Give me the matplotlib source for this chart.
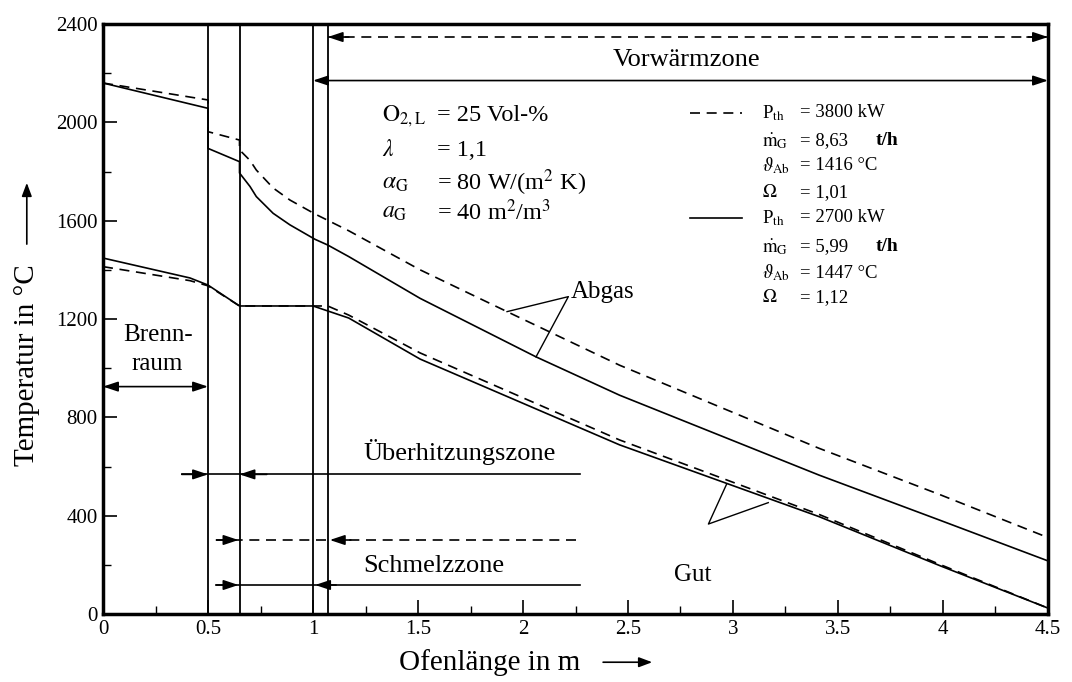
import numpy as np
import matplotlib
matplotlib.use("Agg")
import matplotlib.pyplot as plt
from matplotlib.patches import FancyArrowPatch
from matplotlib.ticker import MultipleLocator

plt.rcParams['font.family'] = ['Liberation Serif', 'DejaVu Serif']
plt.rcParams['mathtext.fontset'] = 'stix'

# Abgas (flue gas) curves
abgas_3800_x = [0, 0.5, 0.5, 0.65, 0.65, 0.70, 0.73, 0.81, 0.89, 1.01, 1.17, 1.51, 1.924, 2.46, 3.41, 3.99, 4.5]
abgas_3800_y = [2160, 2091, 1962, 1928, 1888, 1845, 1806, 1733, 1684, 1627, 1559, 1400, 1230, 1012, 674, 484, 311]
abgas_2700_x = [0, 0.5, 0.5, 0.65, 0.65, 0.70, 0.73, 0.81, 0.89, 1.01, 1.07, 1.17, 1.51, 2.062, 2.46, 3.41, 3.99, 4.5]
abgas_2700_y = [2160, 2057, 1894, 1840, 1794, 1739, 1698, 1630, 1583, 1524, 1501, 1454, 1284, 1046, 890, 565, 380, 216]

# Gut (material) curves
gut_3800_x = [0, 0.414, 0.5, 0.65, 1.07, 1.17, 1.51, 2.46, 3.41, 3.99, 4.5]
gut_3800_y = [1413, 1356, 1335, 1253, 1253, 1216, 1062, 708, 405, 200, 24]
gut_2700_x = [0, 0.414, 0.5, 0.65, 1.0, 1.17, 1.51, 2.46, 3.41, 3.99, 4.5]
gut_2700_y = [1448, 1367, 1338, 1253, 1253, 1204, 1037, 688, 396, 195, 24]

zone_bounds = [0.5, 0.65, 1.0, 1.07]

params_left = [r"$\mathrm{O}_{2,\mathrm{L}}$", r"$\lambda$", r"$\alpha_\mathrm{G}$", r"$a_\mathrm{G}$"]
params_left_val = ["= 25 Vol-%", "= 1,1", r"= 80 W/(m$^2$ K)", r"= 40 m$^2$/m$^3$"]
params_left_y = [2026, 1884, 1753, 1635]
legend_sym = [r"P$_\mathrm{th}$", r"$\dot{\mathrm{m}}_\mathrm{G}$", r"$\vartheta_\mathrm{Ab}$", r"$\Omega$"]
legend_3800 = ["= 3800 kW", "= 8,63", "= 1416 °C", "= 1,01"]
legend_2700 = ["= 2700 kW", "= 5,99", "= 1447 °C", "= 1,12"]
legend_rows_y = [2038, 1925, 1823, 1714, 1611, 1493, 1387, 1286]

fig = plt.figure(figsize=(10.72, 6.82), dpi=100)
ax = fig.add_axes([0.0961, 0.0997, 0.8815, 0.8651])

lw = 1.2
dash = (6, 4)
ax.plot(abgas_3800_x, abgas_3800_y, 'k', lw=lw, dashes=dash)
ax.plot(abgas_2700_x, abgas_2700_y, 'k', lw=lw)
ax.plot(gut_3800_x, gut_3800_y, 'k', lw=lw, dashes=dash)
ax.plot(gut_2700_x, gut_2700_y, 'k', lw=lw)

for xb in zone_bounds:
    ax.axvline(xb, color='k', lw=1.3)

ax.set_xlim(0, 4.5)
ax.set_ylim(0, 2400)
ax.set_xticks(np.arange(0, 4.51, 0.5))
ax.set_xticklabels(["0", "0.5", "1", "1.5", "2", "2.5", "3", "3.5", "4", "4.5"], fontsize=15)
ax.set_yticks(np.arange(0, 2401, 400))
ax.set_yticklabels([str(v) for v in range(0, 2401, 400)], fontsize=15)
ax.xaxis.set_minor_locator(MultipleLocator(0.25))
ax.yaxis.set_minor_locator(MultipleLocator(200))
ax.tick_params(which='major', direction='in', length=10, width=1.2, top=False, right=False, pad=4)
ax.tick_params(which='minor', direction='in', length=6, width=1.0, top=False, right=False)
for s in ax.spines.values():
    s.set_linewidth(2.5)

head = dict(arrowstyle='-|>,head_length=0.9,head_width=0.3', color='k', lw=1.2, shrinkA=0, shrinkB=0)
both = dict(arrowstyle='<|-|>,head_length=0.9,head_width=0.3', color='k', lw=1.2, shrinkA=0, shrinkB=0)

# Vorwaermzone
ax.plot([1.07, 4.5], [2347, 2347], 'k', lw=1.2, dashes=dash)
ax.annotate('', xy=(1.07, 2347), xytext=(1.17, 2347), arrowprops=head)
ax.annotate('', xy=(4.5, 2347), xytext=(4.4, 2347), arrowprops=head)
ax.annotate('', xy=(1.0, 2170), xytext=(4.5, 2170), arrowprops=both)
ax.text(2.78, 2255, "Vorwärmzone", fontsize=19, ha='center', va='center')

# Brennraum
ax.annotate('', xy=(0.0, 925), xytext=(0.5, 925), arrowprops=both)
ax.text(0.26, 1135, "Brenn-", fontsize=18, ha='center', va='center')
ax.text(0.26, 1017, "raum", fontsize=18, ha='center', va='center')

# Ueberhitzungszone
ax.plot([0.375, 2.27], [568, 568], 'k', lw=1.2)
ax.annotate('', xy=(0.5, 568), xytext=(0.375, 568), arrowprops=head)
ax.annotate('', xy=(0.65, 568), xytext=(0.78, 568), arrowprops=head)
ax.text(1.24, 660, "Überhitzungszone", fontsize=19, ha='left', va='center')

# Schmelzzone
ax.plot([0.54, 2.27], [301, 301], 'k', lw=1.2, dashes=dash)
ax.annotate('', xy=(0.645, 301), xytext=(0.54, 301), arrowprops=head)
ax.annotate('', xy=(1.08, 301), xytext=(1.18, 301), arrowprops=head)
ax.plot([0.54, 2.27], [118, 118], 'k', lw=1.2)
ax.annotate('', xy=(0.645, 118), xytext=(0.54, 118), arrowprops=head)
ax.annotate('', xy=(1.01, 118), xytext=(1.11, 118), arrowprops=head)
ax.text(1.24, 195, "Schmelzzone", fontsize=19, ha='left', va='center')

# Abgas / Gut pointers
ax.plot([1.924, 2.216, 2.062], [1230, 1291, 1046], 'k', lw=1.0)
ax.text(2.225, 1310, "Abgas", fontsize=18, ha='left', va='center')
ax.plot([2.97, 2.883, 3.168], [529, 366, 453], 'k', lw=1.0)
ax.text(2.81, 159, "Gut", fontsize=18, ha='center', va='center')

# parameter block
for lab, val, yy in zip(params_left, params_left_val, params_left_y):
    ax.text(1.33, yy, lab, fontsize=17, ha='left', va='center')
    ax.text(1.59, yy, val, fontsize=17.5, ha='left', va='center')

# legend block
ax.plot([2.795, 3.043], [legend_rows_y[0]] * 2, 'k', lw=1.2, dashes=dash)
ax.plot([2.795, 3.043], [legend_rows_y[4]] * 2, 'k', lw=1.2)
for j, vals in enumerate([legend_3800, legend_2700]):
    for i in range(4):
        yy = legend_rows_y[j * 4 + i]
        ax.text(3.138, yy, legend_sym[i], fontsize=13.5, ha='left', va='center')
        ax.text(3.32, yy, vals[i], fontsize=13.5, ha='left', va='center')
        if i == 1:
            ax.text(3.68, yy, "t/h", fontsize=14, fontweight='bold', ha='left', va='center')

# axis labels with arrows
fig.text(0.025, 0.465, "Temperatur in °C", rotation=90, fontsize=21, ha='center', va='center')
fig.patches.append(FancyArrowPatch((0.025, 0.638), (0.025, 0.736), transform=fig.transFigure,
                   arrowstyle='-|>,head_length=8,head_width=3', color='k', lw=1.2))
fig.text(0.457, 0.029, "Ofenlänge in m", fontsize=21, ha='center', va='center')
fig.patches.append(FancyArrowPatch((0.56, 0.029), (0.611, 0.029), transform=fig.transFigure,
                   arrowstyle='-|>,head_length=8,head_width=3', color='k', lw=1.2))

fig.savefig("out.png", dpi=100)
